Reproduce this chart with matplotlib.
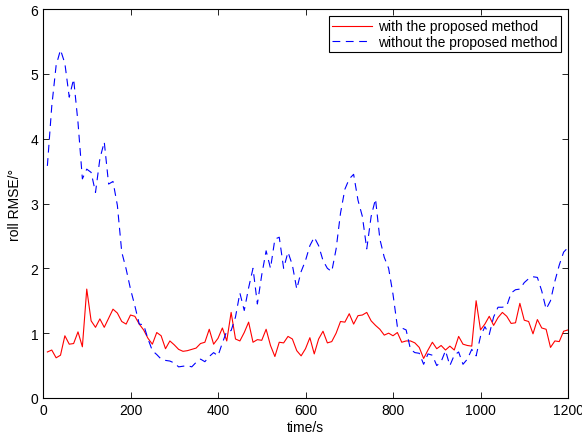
import numpy as np
import matplotlib.pyplot as plt

plt.rcParams['font.family'] = ['Liberation Sans', 'DejaVu Sans']

# sample times (s)
t = np.arange(10, 1201, 10)

# roll RMSE with the proposed method
rmse_with = [
    0.71, 0.74, 0.62, 0.66, 0.96, 0.83, 0.84, 1.02, 0.79, 1.68,
    1.19, 1.09, 1.22, 1.09, 1.23, 1.37, 1.31, 1.18, 1.14, 1.28,
    1.26, 1.14, 1.05, 0.92, 0.83, 1.01, 0.96, 0.76, 0.88, 0.82,
    0.75, 0.72, 0.73, 0.75, 0.77, 0.84, 0.86, 1.06, 0.83, 0.92,
    1.08, 0.88, 1.32, 0.91, 0.88, 1.01, 1.17, 0.86, 0.90, 0.89,
    1.06, 0.81, 0.64, 0.86, 0.85, 0.95, 0.91, 0.73, 0.65, 0.76,
    0.93, 0.68, 0.91, 1.03, 0.85, 0.87, 1.00, 1.18, 1.17, 1.30,
    1.14, 1.27, 1.28, 1.32, 1.19, 1.12, 1.06, 0.97, 1.00, 0.96,
    1.01, 0.86, 0.88, 0.88, 0.85, 0.78, 0.61, 0.74, 0.86, 0.76,
    0.81, 0.74, 0.80, 0.74, 0.95, 0.83, 0.81, 0.80, 1.50, 1.05,
    1.14, 1.26, 1.12, 1.24, 1.32, 1.26, 1.15, 1.16, 1.46, 1.20,
    1.18, 0.99, 1.21, 1.08, 1.06, 0.78, 0.88, 0.87, 1.03, 1.05,
]

# roll RMSE without the proposed method
rmse_without = [
    3.58, 4.50, 5.13, 5.37, 5.16, 4.64, 4.92, 4.25, 3.38, 3.53,
    3.48, 3.17, 3.69, 3.95, 3.30, 3.34, 2.97, 2.25, 1.99, 1.68,
    1.42, 1.14, 1.13, 0.91, 0.73, 0.67, 0.60, 0.58, 0.57, 0.54,
    0.48, 0.49, 0.50, 0.48, 0.55, 0.60, 0.56, 0.64, 0.70, 0.65,
    0.85, 1.03, 1.04, 1.25, 1.62, 1.35, 1.70, 2.00, 1.45, 1.90,
    2.27, 2.00, 2.45, 2.48, 2.00, 2.25, 2.05, 1.68, 1.95, 2.12,
    2.35, 2.48, 2.35, 2.12, 2.00, 1.95, 2.30, 2.85, 3.22, 3.38,
    3.45, 3.05, 2.80, 2.30, 2.80, 3.07, 2.45, 2.17, 2.00, 1.60,
    1.10, 1.08, 1.05, 0.75, 0.70, 0.69, 0.52, 0.68, 0.66, 0.50,
    0.56, 0.73, 0.50, 0.66, 0.71, 0.52, 0.60, 0.75, 0.65, 0.95,
    1.10, 0.98, 1.25, 1.40, 1.40, 1.42, 1.62, 1.67, 1.68, 1.78,
    1.84, 1.87, 1.86, 1.65, 1.37, 1.50, 1.80, 2.05, 2.25, 2.32,
]

fig = plt.figure(figsize=(5.82, 4.39), dpi=100)
ax = fig.add_axes([43 / 582, 40 / 439, 525 / 582, 389 / 439])

ax.plot(t, rmse_with, color='red', lw=0.8, label='with the proposed method')
ax.plot(t, rmse_without, color='blue', lw=0.8, linestyle=(0, (7, 5)),
        label='without the proposed method')

ax.set_xlim(0, 1200)
ax.set_ylim(0, 6)
ax.set_xticks([0, 200, 400, 600, 800, 1000, 1200])
ax.set_yticks([0, 1, 2, 3, 4, 5, 6])
ax.tick_params(direction='in', top=True, right=True, length=4, width=0.6, labelsize=10)
for s in ax.spines.values():
    s.set_linewidth(0.8)

ax.set_xlabel('time/s', fontsize=10, labelpad=2.5)
ax.set_ylabel('roll RMSE/°', fontsize=10, labelpad=6)

leg = ax.legend(loc='upper right', bbox_to_anchor=(0.9867, 0.982), borderaxespad=0,
                fontsize=10, handlelength=2.9, handletextpad=0.4, borderpad=0.25,
                labelspacing=0.1, fancybox=False, framealpha=1)
leg.get_frame().set_edgecolor('black')
leg.get_frame().set_linewidth(0.8)

fig.savefig('out.png', dpi=100)
